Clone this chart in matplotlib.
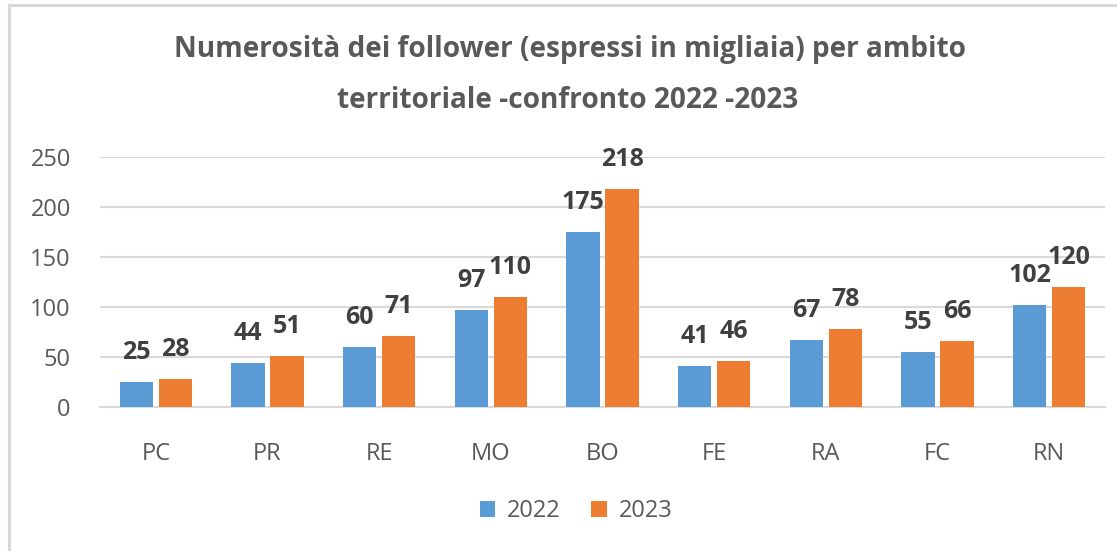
import matplotlib
matplotlib.use("Agg")
import matplotlib.pyplot as plt
import numpy as np
from matplotlib.patches import Patch
from matplotlib.lines import Line2D

categories = ["PC", "PR", "RE", "MO", "BO", "FE", "RA", "FC", "RN"]
values_2022 = [25, 44, 60, 97, 175, 41, 67, 55, 102]
values_2023 = [28, 51, 71, 110, 218, 46, 78, 66, 120]
series_labels = ["2022", "2023"]
yticks = [0, 50, 100, 150, 200, 250]

title_font = "Open Sans"
body_font = "Open Sans"

blue = "#5B9BD5"
orange = "#ED7D31"
grey_text = "#595959"
label_text = "#404040"
grid_col = "#D9D9D9"

fig = plt.figure(figsize=(11.17, 5.51), dpi=100)
W, H = 1117, 551
ax = fig.add_axes([100 / W, 1 - 407 / H, 1005 / W, 250 / H])

x = np.arange(len(categories))
off = 0.175
bw = 0.30
b1 = ax.bar(x - off, values_2022, bw, color=blue, zorder=3)
b2 = ax.bar(x + off, values_2023, bw, color=orange, zorder=3)

for bars, vals in ((b1, values_2022), (b2, values_2023)):
    for r, v in zip(bars, vals):
        ax.annotate(str(v), (r.get_x() + r.get_width() / 2, v),
                    xytext=(0, 21), textcoords="offset points",
                    ha="center", va="center", fontsize=18,
                    fontweight="bold", color=label_text, family=body_font)

ax.set_xlim(-0.5, len(categories) - 0.5)
ax.set_ylim(0, 250)
ax.set_yticks(yticks)
ax.set_xticks(x)
ax.set_xticklabels(categories)
ax.yaxis.grid(True, color=grid_col, linewidth=1.5, zorder=0)
ax.set_axisbelow(True)
for s in ("top", "right", "left"):
    ax.spines[s].set_visible(False)
ax.spines["bottom"].set_color(grid_col)
ax.spines["bottom"].set_linewidth(1.5)
ax.tick_params(axis="both", length=0, labelsize=17, labelcolor=grey_text)
ax.tick_params(axis="y", pad=21)
ax.tick_params(axis="x", pad=25)
for lab in ax.get_xticklabels() + ax.get_yticklabels():
    lab.set_family(body_font)

fig.text(570 / W, 1 - 50 / H, "Numerosità dei follower (espressi in migliaia) per ambito",
         ha="center", va="center", fontsize=20.2, fontweight="bold",
         color=grey_text, family=title_font)
fig.text(568 / W, 1 - 100 / H, "territoriale -confronto 2022 -2023",
         ha="center", va="center", fontsize=20.2, fontweight="bold",
         color=grey_text, family=title_font)

handles = [Patch(facecolor=blue), Patch(facecolor=orange)]
leg = fig.legend(handles, series_labels, loc="center", bbox_to_anchor=(576 / W, 1 - 511 / H),
                 ncol=2, frameon=False, handlelength=0.65, handleheight=0.65,
                 handletextpad=0.5, columnspacing=1.3,
                 prop={"family": body_font, "size": 17})
for t in leg.get_texts():
    t.set_color(grey_text)

# border lines
fig.add_artist(Line2D([9.5 / W, 1], [1 - 4.5 / H, 1 - 4.5 / H], color="#D9D9D9", linewidth=2.2))
fig.add_artist(Line2D([9.5 / W, 9.5 / W], [0, 1 - 4.5 / H], color="#D9D9D9", linewidth=2.2))

fig.savefig("out.png", dpi=100)
